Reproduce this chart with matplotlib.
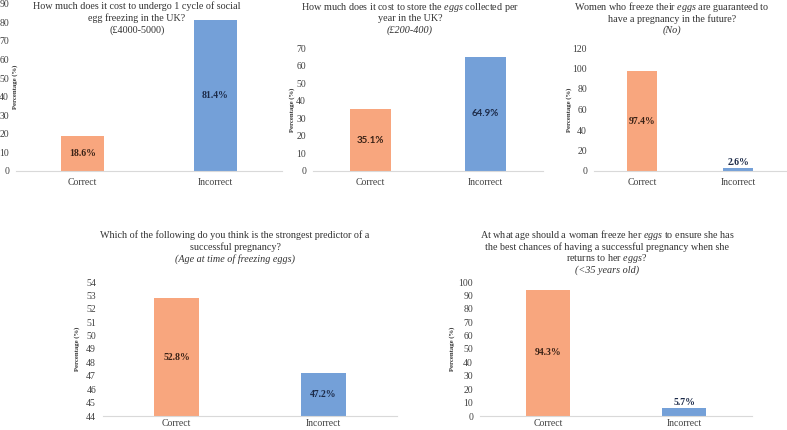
import matplotlib
matplotlib.use("Agg")
import matplotlib.pyplot as plt

plt.rcParams['font.family'] = ['Liberation Serif', 'DejaVu Serif']
plt.rcParams['mathtext.fontset'] = 'custom'
plt.rcParams['mathtext.rm'] = 'Liberation Serif'
plt.rcParams['mathtext.it'] = 'Liberation Serif:italic'

categories = ['Correct', 'Incorrect']

q1_values = [18.6, 81.4]
q2_values = [35.1, 64.9]
q3_values = [97.4, 2.6]
q4_values = [52.8, 47.2]
q5_values = [94.3, 5.7]

q1_title = ['How much does it cost to undergo 1 cycle of social',
            'egg freezing in the UK?', '(£4000-5000)']
q2_title = [r'How much does it cost to store the $\mathit{eggs}$ collected per',
            'year in the UK?', '(£200-400)']
q3_title = [r'Women who freeze their $\mathit{eggs}$ are guaranteed to',
            'have a pregnancy in the future?', '(No)']
q4_title = ['Which of the following do you think is the strongest predictor of a',
            'successful pregnancy?', '(Age at time of freezing eggs)']
q5_title = [r'At what age should a woman freeze her $\mathit{eggs}$ to ensure she has',
            'the best chances of having a successful pregnancy when she',
            r'returns to her $\mathit{eggs}$?', '(<35 years old)']

orange = '#F8A67E'
blue = '#74A0D8'
W, H = 787, 430

fig = plt.figure(figsize=(W / 100, H / 100), dpi=100)


def px_axes(x0, x1, ytop, ybot):
    return fig.add_axes([x0 / W, 1 - ybot / H, (x1 - x0) / W, (ybot - ytop) / H])


def panel(box, values, ylim, step, title, title_xy, last_italic, ylab_x,
          inside, width=0.32, label_font=None, xpad=5):
    ax = px_axes(*box)
    base = ylim[0]
    bars = ax.bar(categories, [v - base for v in values], width=width,
                  bottom=base, color=[orange, blue])
    ax.set_xlim(-0.5, 1.5)
    ax.set_ylim(*ylim)
    ax.set_yticks(range(ylim[0], ylim[1] + 1, step))
    ax.tick_params(axis='y', length=0, labelsize=7, pad=5, labelcolor='#404040')
    ax.tick_params(axis='x', length=0, labelsize=7, pad=xpad, labelcolor='#404040')
    for s in ['top', 'right', 'left']:
        ax.spines[s].set_visible(False)
    ax.spines['bottom'].set_color('#d9d9d9')
    ax.patch.set_alpha(0)
    fam = label_font or ['Liberation Serif']
    colors = ['#3a2216', '#1c2a48']
    for i, (b, v) in enumerate(zip(bars, values)):
        cx = b.get_x() + b.get_width() / 2
        if inside[i]:
            ax.text(cx, (base + v) / 2, f'{v}%', ha='center', va='center',
                    fontsize=7, fontweight='bold', color=colors[i], family=fam)
        else:
            ax.text(cx, v + (ylim[1] - ylim[0]) * 0.01, f'{v}%', ha='center',
                    va='bottom', fontsize=7, fontweight='bold', color=colors[i],
                    family=fam)
    tx, ty = title_xy
    for j, line in enumerate(title):
        style = 'italic' if (last_italic and j == len(title) - 1) else 'normal'
        fig.text(tx / W, 1 - (ty + j * 11.8) / H, line, ha='center', va='center',
                 fontsize=7.3, style=style, color='#333333')
    fig.text(ylab_x / W, 1 - ((box[2] + box[3]) / 2) / H, 'Percentage (%)',
             rotation=90, ha='center', va='center', fontsize=4.8,
             fontweight='bold', color='#333333')
    return ax


panel((16, 282, 3.6, 171), q1_values, (0, 90), 10, q1_title, (137, 6.5), False, 15,
      [True, True])
panel((313, 543, 48, 171), q2_values, (0, 70), 10, q2_title, (410, 7), True, 292,
      [True, True], width=0.35, label_font=['Lato', 'DejaVu Sans'])
panel((594, 786, 48, 171), q3_values, (0, 120), 20, q3_title, (672, 7), True, 569,
      [True, False], width=0.31)
panel((103, 397, 282, 416), q4_values, (44, 54), 1, q4_title, (235, 235), True, 77,
      [True, True], width=0.31, xpad=2.5)
panel((480, 752, 282, 416), q5_values, (0, 100), 10, q5_title, (607, 235), True, 452,
      [True, False], xpad=2.5)

fig.savefig('out.png', dpi=100, facecolor='white')
